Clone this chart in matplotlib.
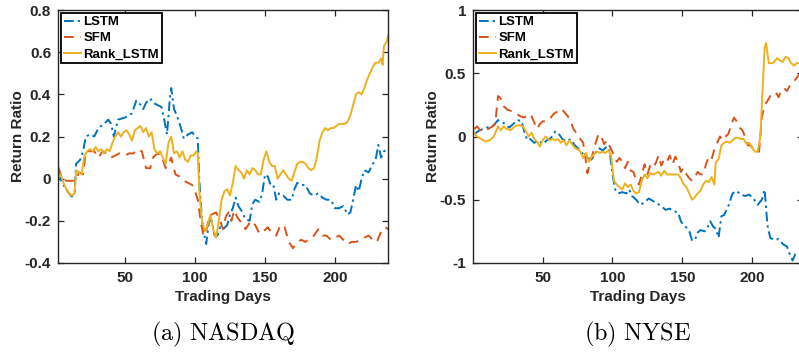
import numpy as np
import matplotlib
matplotlib.use("Agg")
import matplotlib.pyplot as plt

# ---- NASDAQ (panel a) ----
nasdaq_lstm_day = [2, 5, 10, 12, 14, 15, 18, 20, 22, 25,
                   28, 31, 35, 38, 40, 42, 45, 50, 55, 58,
                   60, 63, 65, 68, 70, 73, 76, 78, 80, 82,
                   83, 85, 87, 90, 92, 95, 98, 100, 102, 103,
                   105, 107, 108, 110, 112, 114, 116, 118, 120, 123,
                   125, 127, 129, 131, 133, 136, 139, 141, 143, 146,
                   148, 150, 152, 154, 156, 158, 160, 163, 166, 169,
                   171, 173, 176, 179, 182, 185, 188, 191, 194, 197,
                   200, 203, 206, 209, 211, 213, 215, 217, 219, 221,
                   224, 227, 229, 231, 233, 235, 238]
nasdaq_lstm = [0.03, -0.02, -0.07, -0.085, -0.07, 0.07, 0.09, 0.13, 0.2, 0.21,
               0.2, 0.24, 0.26, 0.28, 0.26, 0.2, 0.28, 0.29, 0.31, 0.37,
               0.36, 0.33, 0.36, 0.38, 0.36, 0.35, 0.34, 0.28, 0.21, 0.38,
               0.43, 0.33, 0.3, 0.24, 0.19, 0.21, 0.22, 0.2, 0.19, 0.0,
               -0.2, -0.28, -0.31, -0.2, -0.2, -0.27, -0.27, -0.23, -0.24, -0.22,
               -0.17, -0.14, -0.09, -0.13, -0.15, -0.19, -0.2, -0.12, -0.1, -0.11,
               -0.07, 0.02, 0.01, -0.03, -0.03, -0.1, -0.07, -0.08, -0.1, -0.1,
               -0.05, -0.02, -0.03, -0.03, -0.07, -0.08, -0.07, -0.09, -0.1, -0.1,
               -0.14, -0.14, -0.13, -0.17, -0.16, -0.1, -0.03, -0.06, 0.0, 0.04,
               0.03, 0.07, 0.09, 0.16, 0.1, 0.13, 0.14]

nasdaq_sfm_day = [2, 5, 8, 12, 15, 17, 20, 22, 25, 28,
                  31, 34, 37, 40, 43, 46, 50, 53, 56, 59,
                  62, 65, 68, 70, 73, 76, 79, 81, 83, 86,
                  89, 92, 95, 98, 100, 102, 104, 106, 108, 110,
                  112, 115, 118, 120, 122, 124, 126, 128, 130, 132,
                  134, 136, 138, 140, 143, 146, 149, 152, 155, 158,
                  161, 164, 167, 170, 173, 176, 179, 182, 185, 188,
                  191, 194, 197, 200, 203, 206, 209, 212, 215, 218,
                  221, 224, 227, 230, 233, 236, 238]
nasdaq_sfm = [0.06, 0.0, -0.01, -0.01, -0.01, 0.03, 0.02, 0.13, 0.13, 0.13,
              0.1, 0.13, 0.12, 0.1, 0.11, 0.12, 0.11, 0.12, 0.12, 0.14,
              0.13, 0.05, 0.05, 0.1, 0.12, 0.11, 0.05, 0.07, 0.1, 0.02,
              0.01, -0.01, -0.02, -0.03, -0.06, -0.1, -0.2, -0.27, -0.25, -0.18,
              -0.17, -0.16, -0.2, -0.24, -0.18, -0.16, -0.2, -0.15, -0.18, -0.2,
              -0.21, -0.24, -0.22, -0.2, -0.22, -0.26, -0.25, -0.23, -0.26, -0.27,
              -0.22, -0.23, -0.3, -0.33, -0.3, -0.29, -0.3, -0.28, -0.27, -0.24,
              -0.27, -0.27, -0.29, -0.28, -0.27, -0.29, -0.31, -0.3, -0.3, -0.29,
              -0.28, -0.27, -0.29, -0.3, -0.25, -0.23, -0.24]

nasdaq_rank_day = [2, 4, 6, 8, 10, 12, 14, 15, 17, 19,
                   21, 23, 25, 27, 29, 31, 33, 35, 37, 39,
                   41, 43, 45, 47, 49, 51, 53, 55, 57, 59,
                   61, 63, 65, 67, 69, 71, 73, 75, 77, 79,
                   81, 83, 85, 87, 89, 91, 93, 95, 97, 99,
                   101, 102, 103, 105, 107, 109, 111, 113, 115, 117,
                   119, 121, 123, 125, 127, 129, 131, 133, 135, 137,
                   139, 141, 143, 145, 147, 149, 151, 153, 155, 157,
                   159, 161, 163, 165, 167, 169, 171, 173, 175, 177,
                   179, 181, 183, 185, 187, 189, 191, 193, 195, 197,
                   199, 201, 203, 205, 207, 209, 211, 213, 215, 217,
                   219, 221, 223, 225, 227, 229, 231, 233, 234, 235,
                   237, 238]
nasdaq_rank = [0.0, 0.02, -0.02, -0.05, -0.07, -0.08, -0.07, 0.04, 0.03, 0.02,
               0.11, 0.13, 0.14, 0.13, 0.15, 0.13, 0.14, 0.12, 0.14, 0.13,
               0.17, 0.2, 0.22, 0.2, 0.22, 0.23, 0.21, 0.18, 0.23, 0.24,
               0.25, 0.22, 0.24, 0.2, 0.22, 0.14, 0.12, 0.13, 0.1, 0.07,
               0.17, 0.2, 0.12, 0.13, 0.1, 0.13, 0.09, 0.08, 0.11, 0.11,
               0.13, 0.12, -0.05, -0.2, -0.25, -0.22, -0.17, -0.24, -0.28, -0.2,
               -0.1, -0.06, -0.05, -0.08, -0.02, 0.06, 0.04, 0.03, 0.0, 0.04,
               0.02, 0.05, 0.04, 0.02, 0.02, 0.09, 0.13, 0.08, 0.06, 0.06,
               0.0, 0.02, 0.04, 0.02, 0.0, -0.01, 0.03, 0.07, 0.08, 0.08,
               0.07, 0.05, 0.04, 0.05, 0.1, 0.18, 0.22, 0.24, 0.23, 0.24,
               0.24, 0.25, 0.26, 0.26, 0.26, 0.27, 0.3, 0.35, 0.4, 0.41,
               0.4, 0.43, 0.47, 0.5, 0.53, 0.55, 0.55, 0.57, 0.54, 0.63,
               0.65, 0.68]

# ---- NYSE (panel b) ----
nyse_lstm_day = [1, 5, 10, 15, 18, 20, 23, 26, 29, 32,
                 35, 37, 39, 41, 44, 47, 50, 53, 56, 59,
                 61, 64, 67, 70, 73, 76, 79, 82, 85, 88,
                 90, 93, 96, 98, 100, 102, 104, 107, 110, 112,
                 114, 117, 120, 123, 126, 129, 132, 135, 138, 141,
                 144, 147, 149, 151, 153, 155, 157, 159, 161, 163,
                 166, 168, 170, 172, 174, 176, 178, 180, 183, 186,
                 189, 192, 195, 198, 201, 204, 207, 209, 211, 213,
                 216, 219, 222, 225, 227, 229, 231, 234, 237]
nyse_lstm = [0.02, 0.05, 0.07, 0.09, 0.13, 0.12, 0.1, 0.07, 0.1, 0.13,
             0.12, 0.03, -0.03, -0.02, -0.05, -0.03, -0.06, -0.03, -0.01, 0.04,
             0.03, -0.02, -0.04, -0.02, -0.07, -0.1, -0.14, -0.17, -0.18, -0.13,
             -0.09, -0.11, -0.08, -0.12, -0.3, -0.42, -0.45, -0.44, -0.45, -0.42,
             -0.47, -0.5, -0.54, -0.52, -0.49, -0.51, -0.53, -0.55, -0.58, -0.57,
             -0.59, -0.6, -0.67, -0.7, -0.72, -0.75, -0.82, -0.82, -0.76, -0.74,
             -0.75, -0.72, -0.67, -0.71, -0.73, -0.8, -0.63, -0.62, -0.55, -0.45,
             -0.43, -0.46, -0.47, -0.46, -0.49, -0.54, -0.5, -0.42, -0.7, -0.8,
             -0.82, -0.81, -0.85, -0.87, -0.93, -0.98, -0.93, -0.92, -0.93]

nyse_sfm_day = [1, 3, 5, 8, 11, 14, 16, 18, 20, 22,
                25, 28, 31, 34, 37, 40, 42, 44, 46, 48,
                50, 53, 55, 58, 61, 63, 65, 68, 70, 72,
                74, 77, 79, 81, 82, 84, 86, 88, 90, 92,
                94, 96, 99, 101, 103, 105, 107, 109, 111, 113,
                115, 117, 119, 121, 123, 125, 127, 129, 131, 133,
                135, 137, 139, 141, 143, 145, 147, 149, 151, 153,
                155, 157, 159, 161, 163, 165, 167, 169, 171, 173,
                175, 177, 179, 181, 183, 185, 187, 189, 191, 193,
                195, 197, 199, 201, 203, 205, 207, 209, 211, 213,
                215, 217, 219, 221, 223, 225, 227, 229, 231, 233,
                235, 237]
nyse_sfm = [0.06, 0.08, 0.05, 0.04, 0.06, 0.08, 0.1, 0.32, 0.3, 0.24,
            0.21, 0.2, 0.18, 0.16, 0.15, 0.18, 0.16, 0.11, 0.06, 0.1,
            0.12, 0.12, 0.14, 0.18, 0.2, 0.22, 0.2, 0.16, 0.12, 0.06,
            0.03, -0.02, -0.05, -0.2, -0.29, -0.2, -0.13, -0.05, 0.02, 0.0,
            -0.06, -0.03, -0.1, -0.15, -0.2, -0.17, -0.2, -0.25, -0.2, -0.27,
            -0.28, -0.35, -0.38, -0.3, -0.22, -0.3, -0.23, -0.25, -0.21, -0.15,
            -0.23, -0.18, -0.2, -0.15, -0.22, -0.16, -0.2, -0.28, -0.25, -0.3,
            -0.33, -0.35, -0.32, -0.28, -0.3, -0.3, -0.22, -0.16, -0.18, -0.1,
            -0.05, 0.0, -0.03, 0.0, 0.02, 0.09, 0.15, 0.12, 0.07, 0.05,
            0.0, -0.07, -0.07, -0.1, -0.12, -0.12, 0.15, 0.25, 0.28, 0.32,
            0.33, 0.35, 0.31, 0.37, 0.38, 0.36, 0.4, 0.42, 0.45, 0.48,
            0.5, 0.52]

nyse_rank_day = [1, 3, 6, 9, 12, 15, 18, 20, 22, 24,
                 27, 30, 33, 36, 38, 40, 42, 44, 46, 48,
                 50, 52, 55, 57, 59, 61, 63, 65, 67, 69,
                 71, 73, 75, 77, 79, 81, 83, 85, 87, 89,
                 91, 93, 95, 97, 99, 101, 103, 105, 107, 109,
                 111, 113, 115, 117, 119, 121, 123, 125, 127, 129,
                 131, 133, 135, 137, 139, 141, 143, 145, 147, 149,
                 151, 153, 155, 157, 159, 161, 163, 165, 167, 169,
                 171, 173, 174, 176, 178, 180, 182, 184, 186, 188,
                 190, 192, 194, 196, 198, 200, 202, 204, 206, 207,
                 209, 210, 212, 215, 218, 220, 222, 224, 226, 228,
                 230, 232, 234, 237]
nyse_rank = [0.03, 0.0, -0.02, -0.04, -0.03, 0.0, 0.08, 0.05, 0.08, 0.06,
             0.05, 0.08, 0.09, 0.08, 0.04, 0.0, 0.03, -0.02, -0.04, -0.08,
             -0.03, 0.0, -0.03, -0.02, -0.03, -0.02, -0.05, -0.03, -0.07, -0.03,
             -0.06, -0.09, -0.1, -0.12, -0.17, -0.13, -0.2, -0.16, -0.14, -0.12,
             -0.13, -0.12, -0.13, -0.11, -0.15, -0.35, -0.38, -0.4, -0.42, -0.37,
             -0.4, -0.38, -0.43, -0.45, -0.44, -0.35, -0.3, -0.33, -0.29, -0.3,
             -0.29, -0.28, -0.31, -0.27, -0.3, -0.3, -0.3, -0.3, -0.3, -0.33,
             -0.38, -0.4, -0.45, -0.5, -0.48, -0.45, -0.43, -0.38, -0.35, -0.36,
             -0.32, -0.38, -0.2, -0.18, -0.07, -0.05, -0.04, -0.05, -0.03, -0.01,
             -0.01, -0.02, -0.02, -0.06, -0.05, -0.09, -0.12, -0.12, 0.0, 0.25,
             0.7, 0.74, 0.58, 0.58, 0.62, 0.6, 0.59, 0.63, 0.62, 0.58,
             0.56, 0.58, 0.58, 0.6]

labels = ["LSTM", "SFM", "Rank_LSTM"]
captions = ["(a)\\ NASDAQ", "(b)\\ NYSE"]

C_BLUE, C_ORANGE, C_YELLOW = "#0072BD", "#D95319", "#EDB120"

plt.rcParams["font.family"] = ["Liberation Sans", "DejaVu Sans"]
plt.rcParams["mathtext.fontset"] = "cm"

W, H = 799, 354
fig = plt.figure(figsize=(W / 100, H / 100), dpi=100)

panels = [
    dict(left=58, lims=(2.1, 238.1), ylim=(-0.4, 0.8),
         yticks=[-0.4, -0.2, 0, 0.2, 0.4, 0.6, 0.8],
         yticklabels=["-0.4", "-0.2", "0", "0.2", "0.4", "0.6", "0.8"],
         series=[(nasdaq_lstm_day, nasdaq_lstm), (nasdaq_sfm_day, nasdaq_sfm),
                 (nasdaq_rank_day, nasdaq_rank)]),
    dict(left=473, lims=(0.07, 236.7), ylim=(-1, 1),
         yticks=[-1, -0.5, 0, 0.5, 1],
         yticklabels=["-1", "-0.5", "0", "0.5", "1"],
         series=[(nyse_lstm_day, nyse_lstm), (nyse_sfm_day, nyse_sfm),
                 (nyse_rank_day, nyse_rank)]),
]

# MATLAB-ish line styles
styles = [dict(color=C_BLUE, dashes=(5, 2, 1.2, 2)),
          dict(color=C_ORANGE, dashes=(5, 3.5)),
          dict(color=C_YELLOW, dashes=None)]

ax_w, top, bot = 330.3, 10, 263
for i, p in enumerate(panels):
    ax = fig.add_axes([p["left"] / W, (H - bot) / H, ax_w / W, (bot - top) / H])
    for (d, v), st, lab in zip(p["series"], styles, labels):
        line, = ax.plot(d, v, color=st["color"], lw=1.4, label=lab)
        if st["dashes"]:
            line.set_dashes(st["dashes"])
    ax.set_xlim(*p["lims"])
    ax.set_ylim(*p["ylim"])
    ax.set_xticks([50, 100, 150, 200])
    ax.set_yticks(p["yticks"])
    ax.set_yticklabels(p["yticklabels"])
    ax.tick_params(direction="in", length=4, width=0.9, top=True, right=True,
                   labelsize=11, colors="#262626", pad=5)
    ax.tick_params(axis="x", pad=6)
    for t in ax.get_xticklabels() + ax.get_yticklabels():
        t.set_fontweight("bold")
    for s in ax.spines.values():
        s.set_color("#262626")
        s.set_linewidth(1.0)
    ax.set_xlabel("Trading Days", fontsize=11, fontweight="bold",
                  color="#262626", labelpad=3)
    ax.set_ylabel("Return Ratio", fontsize=11, fontweight="bold",
                  color="#262626", labelpad=0)
    leg = ax.legend(loc="upper left", handlelength=1.25,
                    handletextpad=0.2, labelspacing=0.28, borderpad=0.22,
                    borderaxespad=0.25, fancybox=False, framealpha=1,
                    edgecolor="black", prop=dict(weight="bold", size=9.5))
    leg.get_frame().set_linewidth(1.3)
    fig.text((p["left"] + 165) / W, (H - 334) / H, "$\\mathrm{%s}$" % captions[i],
             ha="center", va="center", fontsize=17.5)

fig.savefig("out.png", dpi=100)
